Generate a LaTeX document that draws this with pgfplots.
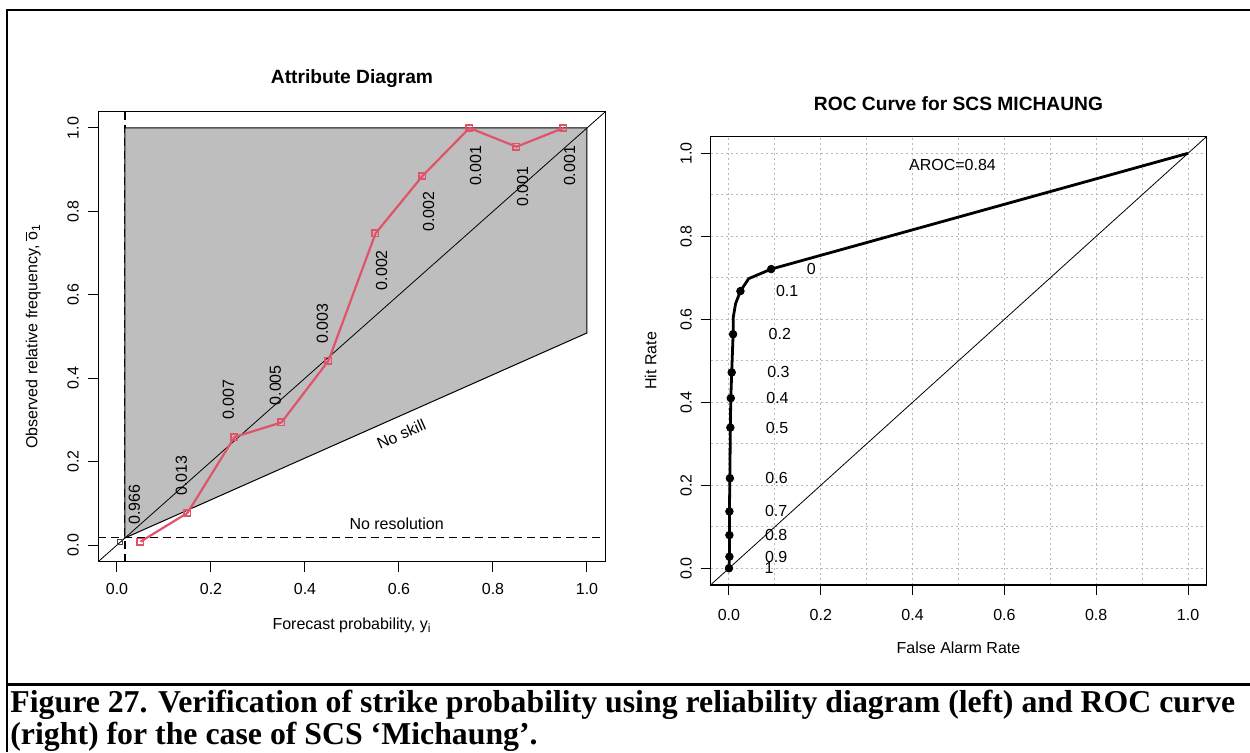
\documentclass[border=0pt]{standalone}
\usepackage{fontspec}
\setmainfont{Liberation Sans}
\newfontfamily\capfont{Liberation Serif}
\usepackage{pgfplots}
\pgfplotsset{compat=1.18}
\usepackage{pgfplotstable}
\definecolor{rred}{HTML}{DF536B}
\definecolor{rgray}{HTML}{BEBEBE}
\definecolor{gridgray}{HTML}{B8B8B8}
\newcommand{\rfont}{\fontsize{8pt}{9.6pt}\selectfont}
\newcommand{\tfont}{\fontsize{9.6pt}{11.5pt}\selectfont\bfseries}

% reliability diagram: forecast bin centre, observed relative frequency
\pgfplotstableread{
x y
0.05 0.008
0.15 0.077
0.25 0.259
0.35 0.294
0.45 0.442
0.55 0.747
0.65 0.885
0.75 1.000
0.85 0.955
0.95 1.000
}\reltab
% relative sample sizes (labels above / below the points)
\pgfplotstableread{
x y lab
0.05 0.048 0.966
0.15 0.117 0.013
0.25 0.299 0.007
0.35 0.334 0.005
0.45 0.482 0.003
}\labup
\pgfplotstableread{
x y lab
0.55 0.708 0.002
0.65 0.848 0.002
0.75 0.958 0.001
0.85 0.908 0.001
0.95 0.958 0.001
}\labdown
% ROC curve
\pgfplotstableread{
x y
0 0
0.001 0.028
0.001 0.080
0.001 0.137
0.002 0.217
0.003 0.339
0.004 0.410
0.006 0.472
0.009 0.564
0.0095 0.606
0.0145 0.638
0.025 0.668
0.043 0.698
0.092 0.721
1 1
}\roccurve
\pgfplotstableread{
x y lab
0 0 1
0.001 0.028 0.9
0.001 0.080 0.8
0.001 0.137 0.7
0.002 0.217 0.6
0.003 0.339 0.5
0.004 0.410 0.4
0.006 0.472 0.3
0.009 0.564 0.2
0.025 0.668 0.1
0.092 0.721 0
}\rocpts

\begin{document}
\begin{tikzpicture}
\useasboundingbox (0,0) rectangle (625pt,376pt);
% outer frame
\draw[line width=1pt] (3.5pt,0pt) -- (3.5pt,371pt) -- (625pt,371pt);
\draw[line width=1.5pt] (3.5pt,34pt) -- (625pt,34pt);
% caption
\node[anchor=base west, inner sep=0pt, font={\capfont\bfseries\fontsize{15.9pt}{16pt}\selectfont}] at (5pt,20pt)
 {Figure 27. Verification of strike probability using reliability diagram (left) and ROC curve};
\node[anchor=base west, inner sep=0pt, font={\capfont\bfseries\fontsize{15.9pt}{16pt}\selectfont}] at (5pt,4pt)
 {(right) for the case of SCS ‘Michaung’.};

% ---------------- Attribute diagram ----------------
\begin{axis}[
  at={(49.1pt,95.15pt)}, anchor=south west,
  scale only axis, width=253.8pt, height=225.2pt,
  xmin=-0.04, xmax=1.04, ymin=-0.04, ymax=1.04,
  axis line style={line width=0.6pt},
  xtick={0,0.2,...,1}, ytick={0,0.2,...,1},
  tick pos=left, tick align=outside, major tick length=5pt,
  tick style={black, line width=0.5pt},
  /pgf/number format/.cd, fixed, fixed zerofill, precision=1, assume math mode=true,
  /pgfplots/.cd,
  tick label style={font=\rfont},
  xticklabel style={anchor=center, yshift=-8.5pt},
  yticklabel style={rotate=90, anchor=center, yshift=7.5pt},
  title={Attribute Diagram},
  title style={font=\tfont, at={(axis description cs:0.5,1.047)}, anchor=center},
  xlabel={Forecast probability, y\textsubscript{i}},
  xlabel style={font=\rfont, at={(axis description cs:0.5,-0.151)}, anchor=base},
  ylabel={Observed relative frequency, $\overline{\mbox{o}}$\textsubscript{1}},
  ylabel style={font=\rfont, at={(axis description cs:-0.129,0.5)}, anchor=center},
  clip=true,
]
\addplot[black, line width=0.6pt, dash pattern=on 4pt off 2.5pt] coordinates {(0.017,-0.04) (0.017,1.04)};
\addplot[fill=rgray, draw=black, line width=0.5pt] coordinates {(0.017,0.017) (0.017,1) (1,1) (1,0.5085)} -- cycle;
\addplot[black, line width=0.4pt] coordinates {(-0.04,-0.04) (1.04,1.04)};
\addplot[black, line width=0.7pt, dash pattern=on 4pt off 2.5pt] coordinates {(-0.04,0.018) (1.04,0.018)};
\addplot[only marks, mark=square, mark size=1.3pt, black!75, mark options={line width=0.5pt}] coordinates {(0.006,0.008)};
\addplot[rred, line width=1.1pt, mark=square, mark size=1.6pt, mark options={solid, line width=0.8pt}] table {\reltab};
\addplot[draw=none, mark=none, nodes near coords, point meta=explicit symbolic,
  every node near coord/.append style={font=\rfont, rotate=90, anchor=south west, inner sep=0pt}]
  table[meta=lab] {\labup};
\addplot[draw=none, mark=none, nodes near coords, point meta=explicit symbolic,
  every node near coord/.append style={font=\rfont, rotate=90, anchor=north east, inner sep=0pt}]
  table[meta=lab] {\labdown};
\node[font=\rfont] at (axis cs:0.595,0.052) {No resolution};
\node[font=\rfont, rotate=23.9] at (axis cs:0.605,0.266) {No skill};
\end{axis}

% ---------------- ROC curve ----------------
\begin{axis}[
  at={(355.3pt,83.55pt)}, anchor=south west,
  scale only axis, width=247.9pt, height=224.1pt,
  xmin=-0.04, xmax=1.04, ymin=-0.04, ymax=1.04,
  axis line style={line width=0.6pt},
  xtick={0,0.2,...,1}, ytick={0,0.2,...,1},
  minor xtick={0.1,0.3,...,0.9}, minor ytick={0.1,0.3,...,0.9},
  grid=both, grid style={gridgray, line width=0.5pt, dash pattern=on 1pt off 1.5pt},
  minor tick length=0pt,
  tick pos=left, tick align=outside, major tick length=5pt,
  tick style={black, line width=0.5pt},
  /pgf/number format/.cd, fixed, fixed zerofill, precision=1, assume math mode=true,
  /pgfplots/.cd,
  tick label style={font=\rfont},
  xticklabel style={anchor=center, yshift=-10pt},
  yticklabel style={rotate=90, anchor=center, yshift=7.3pt},
  title={ROC Curve for SCS MICHAUNG},
  title style={font=\tfont, at={(axis description cs:0.5,1.048)}, anchor=center},
  xlabel={False Alarm Rate},
  xlabel style={font=\rfont, at={(axis description cs:0.5,-0.153)}, anchor=base},
  ylabel={Hit Rate},
  ylabel style={font=\rfont, at={(axis description cs:-0.121,0.5)}, anchor=center},
]
\addplot[black, line width=0.4pt] coordinates {(-0.04,-0.04) (1.04,1.04)};
\addplot[black, line width=1.4pt, line join=round] table {\roccurve};
\addplot[only marks, mark=*, mark size=1.9pt, black, nodes near coords, point meta=explicit symbolic,
  every node near coord/.append style={font=\rfont, anchor=west, inner sep=0pt, xshift=17.6pt}]
  table[meta=lab] {\rocpts};
\node[font=\rfont] at (axis cs:0.487,0.973) {AROC=0.84};
\end{axis}
\end{tikzpicture}
\end{document}
